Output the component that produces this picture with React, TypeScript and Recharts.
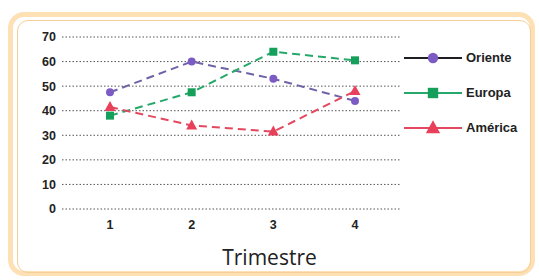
import { LineChart, Line, XAxis, YAxis, CartesianGrid } from 'recharts'

const trimestres = ['1', '2', '3', '4']
const oriente = [47.5, 60, 53, 44]
const europa = [38, 47.5, 64, 60.5]
const america = [41.5, 34, 31.5, 48]
const yTicks = [0, 10, 20, 30, 40, 50, 60, 70]

const series = [
  { key: 'oriente', name: 'Oriente', color: '#6f62a6', legendLine: '#1e1e24', marker: '#7c5cc4', shape: 'circle' },
  { key: 'europa', name: 'Europa', color: '#25a86a', legendLine: '#25a86a', marker: '#14a05a', shape: 'square' },
  { key: 'america', name: 'América', color: '#e4485e', legendLine: '#e4485e', marker: '#e8405a', shape: 'triangle' },
]

const data = trimestres.map((t, i) => ({
  trimestre: t,
  oriente: oriente[i],
  europa: europa[i],
  america: america[i],
}))

function Marker({ cx, cy, shape, fill, k = 1 }: { cx: number; cy: number; shape: string; fill: string; k?: number }) {
  if (shape === 'square') return <rect x={cx - 4 * k} y={cy - 4 * k} width={8 * k} height={8 * k} fill={fill} />
  if (shape === 'triangle')
    return <polygon points={`${cx},${cy - 6 * k} ${cx + 5.5 * k},${cy + 4 * k} ${cx - 5.5 * k},${cy + 4 * k}`} fill={fill} />
  return <circle cx={cx} cy={cy} r={4 * k} fill={fill} />
}

const tickStyle = { fontFamily: 'Liberation Sans, Arial, sans-serif', fontWeight: 700, fontSize: 12.5, fill: '#222' }

export default function App() {
  return (
    <div style={{ position: 'absolute', left: 0, top: 0, width: 539, height: 280, background: '#fff' }}>
      <div
        style={{
          position: 'absolute',
          left: 8,
          top: 12,
          width: 527,
          height: 264,
          boxSizing: 'border-box',
          border: '5px solid #fde0b4',
          borderRadius: 16,
        }}
      />
      <div
        style={{
          position: 'absolute',
          left: 17,
          top: 20,
          width: 514,
          height: 253,
          boxSizing: 'border-box',
          border: '1.5px solid #f6cf98',
          borderRadius: 11,
        }}
      />
      <div style={{ position: 'absolute', left: 0, top: 0 }}>
        <LineChart width={539} height={280} data={data} margin={{ top: 37, right: 139, bottom: 41, left: 0 }}>
          <CartesianGrid vertical={false} stroke="#555" strokeDasharray="1.5 2" />
          <XAxis
            dataKey="trimestre"
            axisLine={false}
            tickLine={false}
            tickSize={4}
            tickMargin={7}
            height={30}
            padding={{ left: 48, right: 45 }}
            tick={tickStyle}
          />
          <YAxis
            domain={[0, 70]}
            ticks={yTicks}
            axisLine={false}
            tickLine={false}
            tickSize={4}
            tickMargin={2}
            width={62}
            tick={tickStyle}
          />
          {series.map((s) => (
            <Line
              key={s.key}
              dataKey={s.key}
              name={s.name}
              stroke={s.color}
              strokeWidth={2}
              strokeDasharray="8 5"
              isAnimationActive={false}
              dot={(p: any) => <Marker key={`${s.key}-${p.index}`} cx={p.cx} cy={p.cy} shape={s.shape} fill={s.marker} />}
              activeDot={false}
            />
          ))}
        </LineChart>
      </div>
      <div style={{ position: 'absolute', left: 404, top: 40 }}>
        {series.map((s) => (
          <div key={s.key} style={{ display: 'flex', alignItems: 'center', height: 35 }}>
            <svg width={60} height={24}>
              <line x1={0} y1={12} x2={58} y2={12} stroke={s.legendLine} strokeWidth={2} />
              <Marker cx={29} cy={12} shape={s.shape} fill={s.marker} k={1.3} />
            </svg>
            <span style={{ fontFamily: 'Liberation Sans, Arial, sans-serif', fontWeight: 700, fontSize: 13, color: '#222', marginLeft: 2 }}>
              {s.name}
            </span>
          </div>
        ))}
      </div>
      <div
        style={{
          position: 'absolute',
          left: 0,
          width: 539,
          top: 243,
          textAlign: 'center',
          fontFamily: 'Open Sans, sans-serif',
          fontSize: 21,
          color: '#222',
        }}
      >
        Trimestre
      </div>
    </div>
  )
}
